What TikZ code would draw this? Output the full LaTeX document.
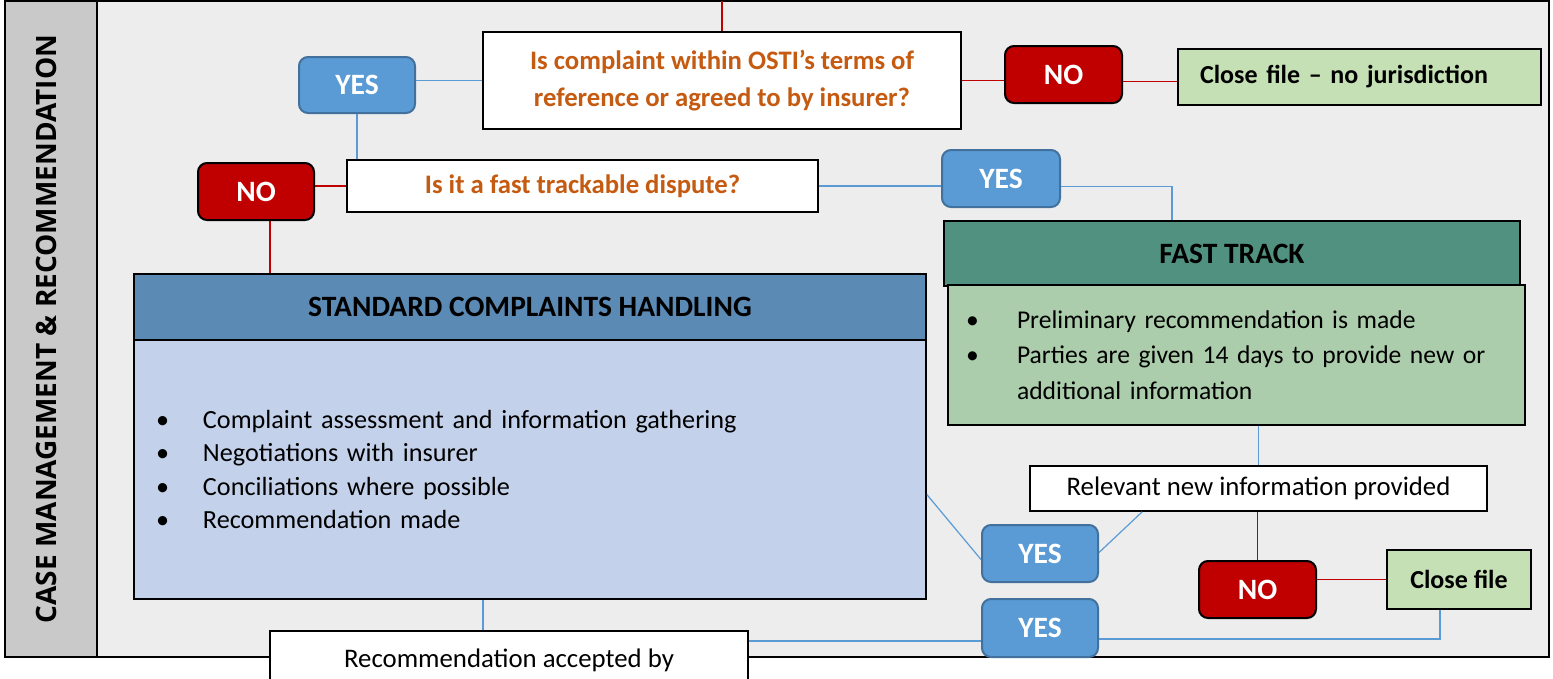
\documentclass[tikz,border=0pt]{standalone}
\usepackage{fontspec}
\setmainfont{Carlito}
\newfontfamily\sidefont{Open Sans}
\usetikzlibrary{positioning}
\definecolor{bggray}{HTML}{EDEDED}
\definecolor{bandgray}{HTML}{C9C9C9}
\definecolor{qorange}{HTML}{C55A11}
\definecolor{yesblue}{HTML}{5B9BD5}
\definecolor{yesedge}{HTML}{41719C}
\definecolor{nored}{HTML}{C00000}
\definecolor{closegreen}{HTML}{C5E0B4}
\definecolor{fthead}{HTML}{50927F}
\definecolor{ftbody}{HTML}{ABCDAB}
\definecolor{stdhead}{HTML}{5B8AB5}
\definecolor{stdbody}{HTML}{C3D1EA}
\tikzset{every picture/.style={line width=1pt}}
\tikzstyle{question}=[rectangle,draw=black,fill=white,line width=1.6pt,text=qorange,font=\fontsize{26.7}{37}\selectfont\bfseries,align=center]
\tikzstyle{plainbox}=[rectangle,draw=black,fill=white,line width=1.6pt,font=\fontsize{26.8}{32}\selectfont,align=center]
\tikzstyle{yesbox}=[rectangle,rounded corners=9pt,draw=yesedge,fill=yesblue,line width=2pt,text=white,font=\fontsize{29.5}{34}\selectfont\bfseries]
\tikzstyle{nobox}=[rectangle,rounded corners=9pt,draw=black,fill=nored,line width=2pt,text=white,font=\fontsize{29.5}{34}\selectfont\bfseries]
\tikzstyle{closebox}=[rectangle,draw=black,fill=closegreen,line width=1.6pt,font=\fontsize{26}{30}\selectfont\bfseries]
\tikzstyle{headbox}=[rectangle,draw=black,line width=1.6pt,font=\fontsize{29.5}{34}\selectfont\bfseries]
\tikzstyle{listbox}=[rectangle,draw=black,line width=1.6pt,align=left,anchor=center]
\tikzstyle{blueline}=[draw=yesblue,line width=1.2pt]
\tikzstyle{redline}=[draw=nored,line width=1.2pt]
\newcommand{\stditem}[1]{\makebox[47pt][l]{\textbullet}#1}
\newcommand{\ftitem}[1]{\makebox[51pt][l]{\textbullet}#1}

\begin{document}
\begin{tikzpicture}[x=1pt,y=-1pt]
\useasboundingbox (0,0) rectangle (1553,678);
\clip (0,0) rectangle (1553,678);
% frame and side band
\draw[fill=bggray,line width=1.6pt] (5,1) rectangle (1549,657);
\draw[fill=bandgray,line width=1.6pt] (5,1) rectangle (97,657);
\node[rotate=90,font=\sidefont\fontsize{28}{32}\selectfont\bfseries] (side) at (46,329) {CASE MANAGEMENT \& RECOMMENDATION};
% questions and answers
\node[question,minimum width=478,minimum height=97] (q1) at (722,80.5) {Is complaint within OSTI’s terms of\\reference or agreed to by insurer?};
\node[yesbox,minimum width=116,minimum height=56] (yes1) at (357,85) {YES};
\node[nobox,minimum width=117,minimum height=57] (no1) at (1063.5,74.5) {NO};
\node[closebox,minimum height=56,text width=319,inner xsep=22,align=left] (closej) at (1359.5,77) {Close file – no jurisdiction};
\node[question,minimum width=471,minimum height=52] (q2) at (582.5,186) {Is it a fast trackable dispute?};
\node[nobox,minimum width=116,minimum height=57] (no2) at (256,191.5) {NO};
\node[yesbox,minimum width=118,minimum height=57] (yes2) at (1001,178.5) {YES};
% fast track
\node[headbox,fill=fthead,minimum width=576,minimum height=65] (fthd) at (1232,253.5) {FAST TRACK};
\node[listbox,fill=ftbody,text width=541,inner xsep=18,minimum height=140,font=\fontsize{25.6}{35.5}\selectfont] (ftbd) at (1236.5,355)
  {\ftitem{Preliminary recommendation is made}\\
   \ftitem{Parties are given 14 days to provide new or}\\
   \hspace*{51pt}additional information};
% standard handling
\node[headbox,fill=stdhead,minimum width=792,minimum height=66] (stdhd) at (530,307) {STANDARD COMPLAINTS HANDLING};
\node[listbox,fill=stdbody,text width=748,inner xsep=22,minimum height=259,font=\fontsize{26.2}{33.5}\selectfont] (stdbd) at (530,469.5)
  {\stditem{Complaint assessment and information gathering}\\
   \stditem{Negotiations with insurer}\\
   \stditem{Conciliations where possible}\\
   \stditem{Recommendation made}};
% outcome
\node[plainbox,minimum width=457,minimum height=45] (rel) at (1258.5,488.5) {Relevant new information provided};
\node[yesbox,minimum width=116,minimum height=57] (yes3) at (1040,553.5) {YES};
\node[nobox,minimum width=117,minimum height=57] (no3) at (1257.5,589.5) {NO};
\node[closebox,minimum width=144,minimum height=59] (closef) at (1459,579.5) {Close file};
\node[yesbox,minimum width=116,minimum height=58] (yes4) at (1040,628) {YES};
\node[plainbox,minimum width=478,anchor=north,inner ysep=18,text depth=30pt] (rec) at (509,630) {Recommendation accepted by};
% connectors
\coordinate (entry) at (722,1);
\draw[redline] (entry) -- (q1.north);
\draw[blueline] (q1.west -| yes1.east) -- (q1.west);
\draw[blueline] (yes1.south) -- (yes1.south |- q2.north);
\draw[redline] (q1.east) -- (q1.east -| no1.west);
\draw[redline] ([yshift=-7pt]no1.east) -- ([yshift=-7pt]no1.east -| closej.west);
\draw[redline] (q2.west) -- (q2.west -| no2.east);
\draw[redline] ([xshift=14pt]no2.south) -- ([xshift=14pt]no2.south |- stdhd.north);
\draw[blueline] (q2.east) -- (q2.east -| yes2.west);
\draw[blueline] ([yshift=-8pt]yes2.east) -| ([xshift=-60pt]fthd.north);
\draw[blueline] (rel.north) -- (rel.north |- ftbd.south);
\draw[blueline] ([yshift=-25pt]stdbd.east) -- ([yshift=-6pt]yes3.west);
\draw[blueline] ([yshift=1pt]yes3.east) -- ([xshift=113pt]rel.south west);
\draw[redline] (rel.south -| no3.north) -- (no3.north);
\draw[redline] (closef.west -| no3.east) -- (closef.west);
\draw[blueline] ([xshift=-26pt]rec.north) -- ([xshift=-26pt]rec.north |- stdbd.south);
\draw[blueline] ([yshift=-13pt]yes4.west -| rec.east) -- ([yshift=-13pt]yes4.west);
\draw[blueline] ([yshift=-11pt]yes4.east) -| ([xshift=-19pt]closef.south);
\end{tikzpicture}
\end{document}
